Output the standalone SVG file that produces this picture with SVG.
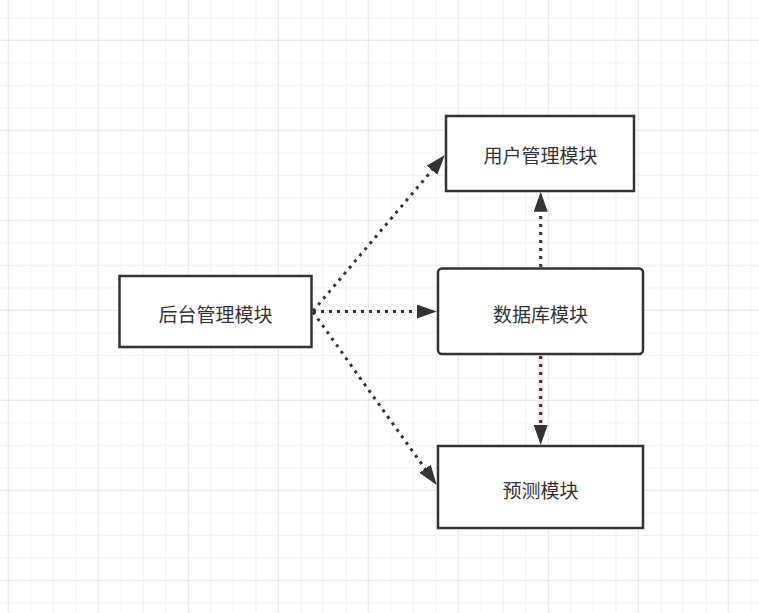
<svg xmlns="http://www.w3.org/2000/svg" width="759" height="613" viewBox="0 0 759 613">
  <style>
    .box { fill: #ffffff; stroke: #333333; stroke-width: 2.5; }
    .lbl { font-family: "Noto Sans CJK SC", "Microsoft YaHei", sans-serif; font-size: 19px; fill: #333333; text-anchor: middle; dominant-baseline: central; }
    .edge { fill: none; stroke: #333333; stroke-width: 3; stroke-dasharray: 3 5; }
  </style>
  <defs>
    <pattern id="grid" patternUnits="userSpaceOnUse" x="7.8" y="39.8" width="90" height="90">
      <path d="M23 0V90M45.5 0V90M68 0V90M0 23H90M0 45.5H90M0 68H90" stroke="#f0f0f0" stroke-width="1" fill="none"/>
      <path d="M0.5 0V90M0 0.5H90" stroke="#e3e3e3" stroke-width="1" fill="none"/>
    </pattern>
    <marker id="arrow" viewBox="0 0 20 14" refX="2" refY="7" markerWidth="20" markerHeight="14" markerUnits="userSpaceOnUse" orient="auto">
      <path d="M0 0L20 7L0 14Z" fill="#333333"/>
    </marker>
  </defs>
  <rect width="759" height="613" fill="#ffffff"/>
  <rect width="759" height="613" fill="url(#grid)"/>

  <g id="connectors">
    <path class="edge" d="M313 311L433.3 168.7" marker-end="url(#arrow)"/>
    <path class="edge" d="M313 311.5L418.7 311.5" marker-end="url(#arrow)"/>
    <path class="edge" d="M313 312L426.2 470.4" marker-end="url(#arrow)"/>
    <path class="edge" d="M540.7 267L540.7 209.7" marker-end="url(#arrow)"/>
    <path d="M540.7 356L540.7 427" stroke="#f4e6e6" stroke-width="6" fill="none"/>
    <path class="edge" d="M540.7 356L540.7 427" marker-end="url(#arrow)"/>
  </g>

  <g id="node-backend">
    <rect class="box" x="119.5" y="276" width="192" height="71"/>
    <text class="lbl" x="215.5" y="313">后台管理模块</text>
  </g>
  <g id="node-user">
    <rect class="box" x="446" y="116" width="188" height="75"/>
    <text class="lbl" x="540.5" y="154">用户管理模块</text>
  </g>
  <g id="node-db">
    <rect class="box" x="438" y="268.5" width="205" height="85.5" rx="4"/>
    <text class="lbl" x="540.5" y="313">数据库模块</text>
  </g>
  <g id="node-predict">
    <rect class="box" x="438" y="446" width="205" height="82"/>
    <text class="lbl" x="540.5" y="489">预测模块</text>
  </g>
</svg>
